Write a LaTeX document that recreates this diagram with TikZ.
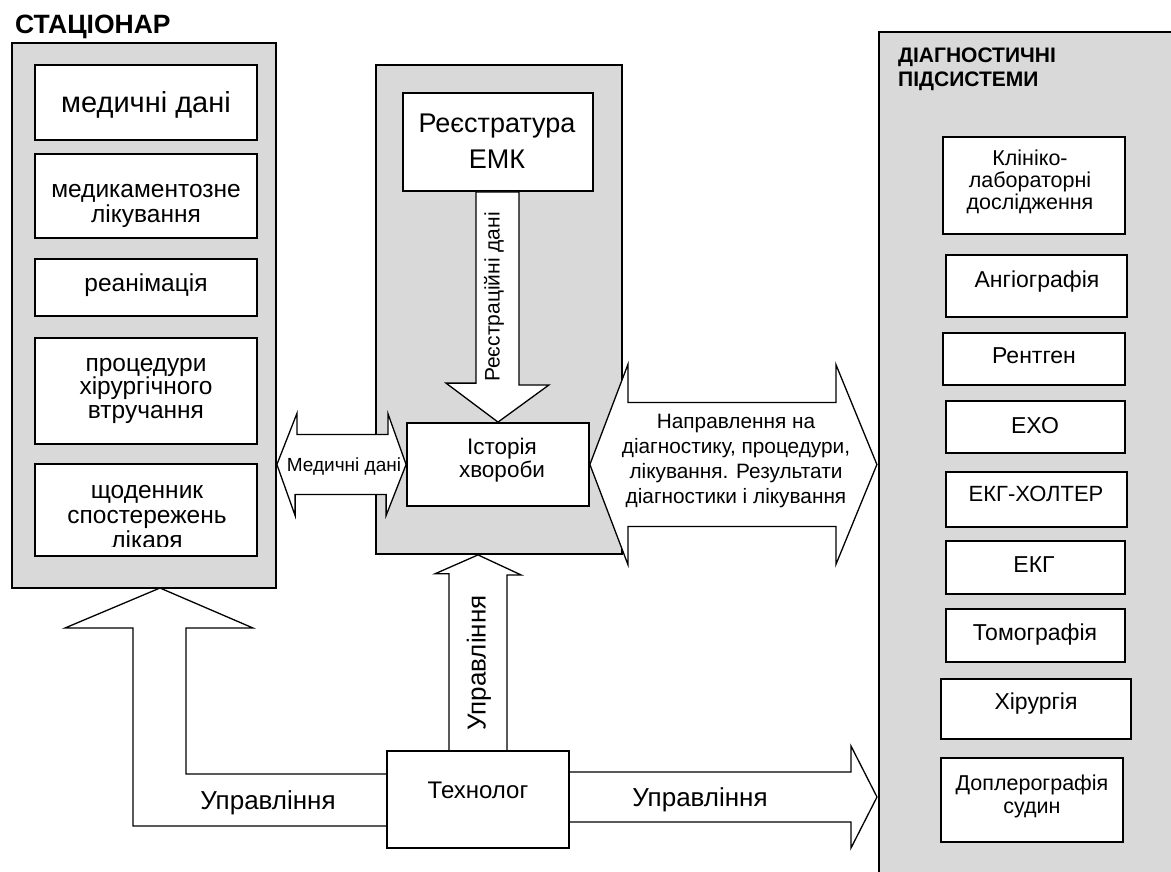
\documentclass[tikz,border=0pt]{standalone}
\usepackage{fontspec}
\setmainfont{Liberation Sans}
\usetikzlibrary{calc}
\definecolor{panelgray}{RGB}{217,217,217}
\newcommand\fsz[2]{\fontsize{#1}{#2}\selectfont}
\begin{document}
\begin{tikzpicture}[x=1pt,y=-1pt,
  panel/.style={draw=black, line width=1.8pt, fill=panelgray, inner sep=0pt},
  box/.style={draw=black, line width=1.8pt, fill=white, inner sep=0pt},
  thinbox/.style={draw=black, line width=1.3pt, fill=white, inner sep=0pt},
  barrow/.style={draw=black, line width=1.3pt, fill=white, line join=miter},
  txt/.style={inner sep=0pt, align=center, anchor=base},
  vtxt/.style={inner sep=0pt, rotate=90, anchor=center},
]
\clip (0,0) rectangle (1171,871);
\fill[white] (0,0) rectangle (1171,871);

% ---------- panels ----------
\node[panel, minimum width=264, minimum height=545] (lp) at (144,315.5) {};
\node[panel, minimum width=246, minimum height=489] (mp) at (499,309.5) {};
\node[panel, minimum width=310, minimum height=860, anchor=north west] (rp) at (878,31) {};

% ---------- left boxes ----------
\node[box, minimum width=222, minimum height=75]  (md) at (146,102.5) {};
\node[box, minimum width=222, minimum height=84]  (mk) at (146,196) {};
\node[box, minimum width=222, minimum height=57]  (re) at (146,287.5) {};
\node[box, minimum width=222, minimum height=106] (pr) at (146,391) {};
\node[box, minimum width=222, minimum height=92]  (sh) at (146,510) {};

% ---------- middle boxes ----------
\node[box, minimum width=190, minimum height=98] (reg) at (498,142) {};
\node[box, minimum width=182, minimum height=83] (hist) at (498,464.5) {};

% ---------- right boxes ----------
\node[box, minimum width=182, minimum height=97] (kl) at (1034,185.5) {};
\node[box, minimum width=181, minimum height=62] (an) at (1036.5,286) {};
\node[box, minimum width=182, minimum height=52] (rg) at (1034,359) {};
\node[box, minimum width=179, minimum height=52] (ex) at (1035.5,427) {};
\node[box, minimum width=181, minimum height=55] (eh) at (1036.5,499.5) {};
\node[box, minimum width=179, minimum height=53] (ek) at (1035.5,567.5) {};
\node[box, minimum width=179, minimum height=53] (tm) at (1035.5,635.5) {};
\node[box, minimum width=190, minimum height=60] (hr) at (1036,709) {};
\node[box, minimum width=182, minimum height=84] (dp) at (1032,800) {};

% ---------- Технолог (position only, drawn later) ----------
\path (478,799.5) node[minimum width=182, minimum height=97, inner sep=0pt] (tech) {};
\coordinate (ltip) at (160,588);
\coordinate (rtip) at (877,797);

% ---------- block arrows ----------
% Реєстраційні дані
\draw[barrow] (hist.north) -- ++(-52,-39) -- ++(30,0) |- (reg.south) -- ++(21,0)
  -- ++(0,193) -- ++(30,0) -- cycle;
% Медичні дані (double)
\draw[barrow] (lp.east |- hist.west) -- ++(20,-51) -- ++(0,21) -- ++(91,0) -- ++(0,-21)
  -- (hist.west) -- ++(-20,51) -- ++(0,-21) -- ++(-91,0) -- ++(0,21) -- cycle;
% Направлення (double)
\draw[barrow] (hist.east) -- ++(38,-100) -- ++(0,38) -- ++(208,0) -- ++(0,-38)
  -- ++(41,100) -- ++(-41,100) -- ++(0,-38) -- ++(-208,0) -- ++(0,38) -- cycle;
% Технолог -> middle panel
\draw[barrow] ($(tech.north)+(-29,0)$) -- ++(0,-177) -- ++(-14,0) -- (tech.north |- mp.south)
  -- ++(43,20) -- ++(-14,0) -- ++(0,177) -- cycle;
% Технолог -> СТАЦІОНАР (bent)
\draw[barrow] ($(tech.west)+(0,-25.5)$) -| (186,628) -- (253,628) -- (ltip) -- (65,628)
  -- (133,628) |- ($(tech.west)+(0,26.5)$) -- cycle;
% Технолог -> diagnostic subsystems
\draw[barrow] ($(tech.east)+(0,-27.5)$) -- (851,772) -- (851,746) -- (rtip) -- (851,848)
  -- (851,822) -- ($(tech.east)+(0,22.5)$) -- cycle;

\node[thinbox, minimum width=182, minimum height=97] at (tech) {};

% ---------- titles ----------
\node[inner sep=0pt, anchor=base west, font=\bfseries\fsz{26.5}{27}] (t1) at (15,33) {СТАЦІОНАР};
\node[inner sep=0pt, anchor=base west, align=left, font=\bfseries\fsz{21}{24}] (t2) at (898,86) {ДІАГНОСТИЧНІ\\ПІДСИСТЕМИ};

% ---------- texts (anchor = baseline of the last line) ----------
\node[txt, font=\fsz{29}{30}] at (146,112) {медичні дані};
\node[txt, font=\fsz{24.5}{25}] at (146,222) {медикаментозне\\лікування};
\node[txt, font=\fsz{24.5}{25}] at (146,291) {реанімація};
\node[txt, font=\fsz{24.5}{23.5}] at (146,418) {процедури\\хірургічного\\втручання};
\begin{scope}
\clip (35,464) rectangle (257,546.5);
\node[txt, font=\fsz{24.5}{25}] at (147,548) {щоденник\\спостережень\\лікаря};
\end{scope}

\node[txt, font=\fsz{27}{36}] at (497,168) {Реєстратура\\ЕМК};
\node[txt, font=\fsz{22.5}{23}] at (502,477) {Історія\\хвороби};
\node[txt, font=\fsz{19}{20}] at (344,471) {Медичні дані};
\node[vtxt, font=\fsz{21}{22}] at (494,297) {Реєстраційні дані};
\node[txt, font=\fsz{20.8}{24.7}] at (736,503) {Направлення на\\діагностику, процедури,\\лікування. Результати\\діагностики і лікування};
\node[vtxt, font=\fsz{26}{27}] at (479,663) {Управління};
\node[txt, font=\fsz{24}{25}] at (478,798) {Технолог};
\node[txt, font=\fsz{26}{27}] at (700,806) {Управління};
\node[txt, font=\fsz{26}{27}] at (268,809) {Управління};

\node[txt, font=\fsz{21.5}{22}] at (1030,209) {Клініко-\\лабораторні\\дослідження};
\node[txt, font=\fsz{23}{24}] at (1037,287) {Ангіографія};
\node[txt, font=\fsz{23}{24}] at (1034,363) {Рентген};
\node[txt, font=\fsz{23}{24}] at (1035,433) {ЕХО};
\node[txt, font=\fsz{22}{24}] at (1036,501) {ЕКГ-ХОЛТЕР};
\node[txt, font=\fsz{23}{24}] at (1034,572) {ЕКГ};
\node[txt, font=\fsz{23}{24}] at (1035,640) {Томографія};
\node[txt, font=\fsz{23}{24}] at (1036,709) {Хірургія};
\node[txt, font=\fsz{21.5}{23}] at (1032,813) {Доплерографія\\судин};
\end{tikzpicture}
\end{document}
